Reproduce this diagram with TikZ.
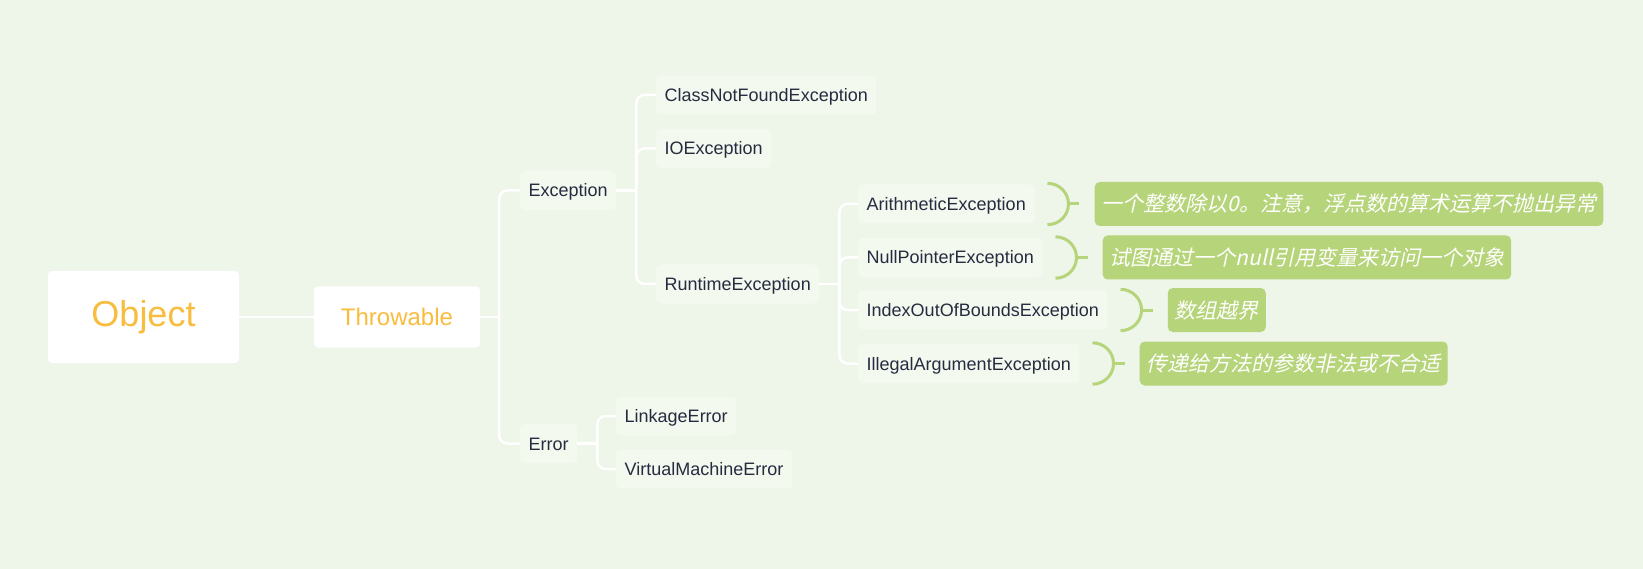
\documentclass[tikz,border=0pt]{standalone}
\usepackage{fontspec}
\setmainfont{Liberation Sans}
\newfontfamily\cjk[FakeSlant=0.22]{Noto Sans CJK SC}
\usepackage{xcolor}
\usepackage{tikz}
\usetikzlibrary{positioning}
\definecolor{paper}{HTML}{EEF5E9}
\definecolor{boxfill}{HTML}{F3F9EE}
\definecolor{gold}{HTML}{F8BD3E}
\definecolor{ink}{HTML}{262C40}
\definecolor{leaf}{HTML}{B6D47A}
\tikzset{
    tnode/.style = {align=center, inner sep=0pt, text centered},
    root_node/.style = {tnode, rectangle, rounded corners=4pt, fill=white, text=gold, minimum width=191pt, minimum height=92pt, font=\fontsize{36}{40}\selectfont},
    main_node/.style = {tnode, rectangle, rounded corners=4pt, fill=white, text=gold, minimum width=166pt, minimum height=61pt, font=\fontsize{24}{28}\selectfont},
    sub_node/.style = {tnode, rectangle, rounded corners=4pt, fill=boxfill, text=ink, anchor=west, inner xsep=8.5pt, minimum height=39pt, text height=15pt, text depth=2pt, font=\fontsize{18}{22}\selectfont},
    note_node/.style = {tnode, rectangle, rounded corners=5pt, fill=leaf, text=white, inner xsep=7pt, minimum height=44pt, text height=18pt, text depth=2pt, font=\cjk\fontsize{21}{25}\selectfont}
}
\tikzset{
    branch/.style = {draw=white, line width=2.5pt, rounded corners=8pt},
    bracket/.style = {draw=leaf, line width=3pt}
}

\begin{document}
\begin{tikzpicture}
            [-, x=1pt, y=-1pt]

            \fill [paper] (0,0) rectangle (1643,569);

            % main line
            \node [root_node] (object) at (143.5,317) {Object};
            \node [main_node] (throwable) at (397,317) {Throwable};

            \node [sub_node] (exception) at (520,190.5) {Exception};
            \node [sub_node] (error) at (520,443.5) {Error};

            \node [sub_node] (classnotfound) at (656,95) {ClassNotFoundException};
            \node [sub_node] (ioexc) at (656,148.5) {IOException};
            \node [sub_node] (runtime) at (656,284) {RuntimeException};

            \node [sub_node] (arith) at (858,204) {ArithmeticException};
            \node [sub_node] (nullptr) at (858,257.5) {NullPointerException};
            \node [sub_node] (indexoob) at (858,310) {IndexOutOfBoundsException};
            \node [sub_node] (illegal) at (858,363.5) {IllegalArgumentException};

            \node [sub_node] (linkage) at (616,416) {LinkageError};
            \node [sub_node] (vmerror) at (616,469) {VirtualMachineError};

            % notes
            \node [note_node, right=60pt of arith] (note1) {一个整数除以0。注意，浮点数的算术运算不抛出异常};
            \node [note_node, right=60pt of nullptr] (note2) {试图通过一个null引用变量来访问一个对象};
            \node [note_node, right=60pt of indexoob] (note3) {数组越界};
            \node [note_node, right=60pt of illegal] (note4) {传递给方法的参数非法或不合适};

            % branches
            \coordinate (tb) at ([xshift=19pt]throwable.east);
            \coordinate (eb) at ([xshift=20pt]exception.east);
            \coordinate (rb) at ([xshift=20pt]runtime.east);
            \coordinate (rrb) at ([xshift=20pt]error.east);

            \draw [branch] (object.east) -- (throwable.west);
            \draw [branch] (throwable.east) -- (tb);
            \draw [branch] (tb) |- (exception.west);
            \draw [branch] (tb) |- (error.west);

            \draw [branch] (exception.east) -- (eb);
            \draw [branch] (eb) |- (classnotfound.west);
            \draw [branch] (eb) |- (ioexc.west);
            \draw [branch] (eb) |- (runtime.west);

            \draw [branch] (runtime.east) -- (rb);
            \draw [branch] (rb) |- (arith.west);
            \draw [branch] (rb) |- (nullptr.west);
            \draw [branch] (rb) |- (indexoob.west);
            \draw [branch] (rb) |- (illegal.west);

            \draw [branch] (error.east) -- (rrb);
            \draw [branch] (rrb) |- (linkage.west);
            \draw [branch] (rrb) |- (vmerror.west);

            % brackets
            \draw [bracket] ([xshift=13pt,yshift=1pt]arith.north east) to[out=0, in=90] ([xshift=34pt]arith.east) to[out=-90, in=0] ([xshift=13pt,yshift=-1pt]arith.south east);
            \draw [bracket, shorten >=15pt] ([xshift=34pt]arith.east) -- (note1.west);
            \draw [bracket] ([xshift=13pt,yshift=1pt]nullptr.north east) to[out=0, in=90] ([xshift=34pt]nullptr.east) to[out=-90, in=0] ([xshift=13pt,yshift=-1pt]nullptr.south east);
            \draw [bracket, shorten >=15pt] ([xshift=34pt]nullptr.east) -- (note2.west);
            \draw [bracket] ([xshift=13pt,yshift=1pt]indexoob.north east) to[out=0, in=90] ([xshift=34pt]indexoob.east) to[out=-90, in=0] ([xshift=13pt,yshift=-1pt]indexoob.south east);
            \draw [bracket, shorten >=15pt] ([xshift=34pt]indexoob.east) -- (note3.west);
            \draw [bracket] ([xshift=13pt,yshift=1pt]illegal.north east) to[out=0, in=90] ([xshift=34pt]illegal.east) to[out=-90, in=0] ([xshift=13pt,yshift=-1pt]illegal.south east);
            \draw [bracket, shorten >=15pt] ([xshift=34pt]illegal.east) -- (note4.west);
\end{tikzpicture}
\end{document}
